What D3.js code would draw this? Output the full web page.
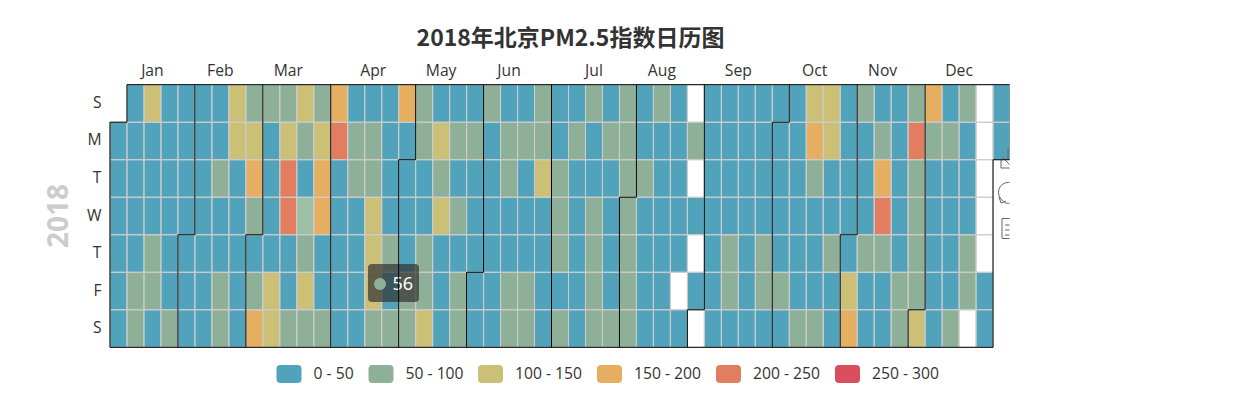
<!DOCTYPE html>
<html><head><meta charset="utf-8">
<script src="https://cdn.jsdelivr.net/npm/d3@7/dist/d3.min.js"></script>
<style>html,body{margin:0;padding:0;background:#fff}svg{display:block}text{font-family:"Open Sans","Noto Sans CJK SC",sans-serif}</style>
</head><body><svg id="c" width="1250" height="419"></svg>
<script>
const titleText = "2018年北京PM2.5指数日历图";
const yearLabel = "2018";
const monthLabels = ["Jan","Feb","Mar","Apr","May","Jun","Jul","Aug","Sep","Oct","Nov","Dec"];
const dayLabels = ["S","M","T","W","T","F","S"];
const legendLabels = ["0 - 50","50 - 100","100 - 150","150 - 200","200 - 250","250 - 300"];
const binEdges = [50,100,150,200,250];
const binColors = ["#50a3ba","#8fb098","#cbc076","#e6ae60","#e27d60","#d94e5d"];
// Estimated PM2.5 by weekday (rows) and week (columns); values are read as colour bins.
const sun=[null,30,125,30,30,30,30,125,75,75,75,125,75,175,30,30,30,175,75,30,30,30,75,30,30,75,30,30,75,30,75,30,75,30,null,30,30,30,30,30,30,125,125,30,75,30,30,75,175,30,75,null,30];
const mon=[30,30,30,30,30,30,30,125,125,30,125,75,125,225,75,75,30,30,75,125,75,75,30,75,75,75,30,75,30,75,75,30,30,30,75,30,30,30,30,30,30,175,125,30,30,75,30,225,75,75,30,null,30];
const tue=[30,30,30,30,30,30,75,30,175,30,225,30,175,30,75,75,30,30,30,75,30,30,30,75,30,125,75,30,30,30,75,75,30,30,null,30,30,30,30,30,30,75,30,30,30,175,30,75,30,30,30,null,null];
const wed=[30,30,30,30,30,30,30,30,75,30,225,56,175,30,30,125,30,30,30,125,75,30,30,30,30,30,75,30,75,30,75,30,30,30,30,30,30,30,30,30,30,30,30,30,30,225,30,75,30,30,30,null,null];
const thu=[30,30,75,30,30,30,30,30,30,30,30,75,30,30,30,125,75,30,75,30,30,30,30,30,30,30,75,30,75,30,75,30,30,30,null,30,75,30,75,30,30,30,75,30,75,75,30,75,30,30,75,null,null];
const fri=[30,75,75,30,30,30,75,30,75,125,30,125,30,30,30,125,30,75,75,30,75,30,30,75,75,30,30,30,75,30,75,30,30,null,30,30,75,30,75,75,30,30,30,125,30,30,75,75,30,30,75,30,null];
const sat=[30,75,30,75,30,30,75,30,175,125,75,75,75,30,30,75,75,75,125,30,75,30,30,75,75,30,75,30,75,75,75,30,30,30,null,30,30,30,30,30,75,75,30,175,30,30,75,125,30,75,null,30,null];
const weekdayRows = [sun,mon,tue,wed,thu,fri,sat];
const hoverValue = 56;

const svg = d3.select("#c");
const weeks = 53;
const x = d3.scaleLinear().domain([0,weeks]).range([110,1010]);
const y = d3.scaleLinear().domain([0,7]).range([84.7,347.3]);
const color = d3.scaleThreshold().domain(binEdges).range(binColors);
const yearStart = new Date(2018,0,1);
const colOf = d => d3.timeSunday.count(d3.timeSunday.floor(yearStart), d3.timeSunday.floor(d));
const days = d3.timeDay.range(new Date(2018,0,1), new Date(2019,0,1)).map(d => {
  const col = colOf(d), row = d.getDay();
  return {date:d,col,row,value:weekdayRows[row][col]};
});

// title and labels
svg.append("text").attr("x",570.5).attr("y",46).attr("text-anchor","middle")
  .attr("font-size",23).attr("font-weight",700).attr("fill","#333").style("font-family",'"Noto Sans CJK SC",sans-serif').text(titleText);
svg.append("text").attr("transform",`translate(68,${(y(0)+y(7))/2}) rotate(-90)`).attr("text-anchor","middle")
  .attr("font-size",28).attr("font-weight",700).attr("fill","#ccc").text(yearLabel);
svg.selectAll("text.day").data(dayLabels).join("text").attr("class","day")
  .attr("x",101.5).attr("y",(d,i)=>y(i+.5)+4.5).attr("text-anchor","end").attr("font-size",15.7).attr("fill","#333").text(d=>d);
svg.selectAll("text.month").data(monthLabels).join("text").attr("class","month")
  .attr("x",(d,i)=>{const a=colOf(new Date(2018,i,1)),b=colOf(new Date(2018,i+1,0));return (x(a)+x(b+1))/2;})
  .attr("y",75.500).attr("text-anchor","middle").attr("font-size",15.7).attr("fill","#333").text(d=>d);

const chartClip = svg.append("clipPath").attr("id","cc").append("rect").attr("x",0).attr("y",0).attr("width",1009.5).attr("height",419);
const plot = svg.append("g").attr("clip-path","url(#cc)");

// calendar background
plot.append("g").selectAll("rect").data(days).join("rect")
  .attr("x",d=>x(d.col)).attr("y",d=>y(d.row)).attr("width",x(1)-x(0)).attr("height",y(1)-y(0))
  .attr("fill","#fff");
// heat cells
plot.append("g").selectAll("rect").data(days.filter(d=>d.value!=null)).join("rect")
  .attr("x",d=>x(d.col)).attr("y",d=>y(d.row)).attr("width",x(1)-x(0)).attr("height",y(1)-y(0))
  .attr("fill",d=>d.value===hoverValue?"#9dc0a5":color(d.value));
// cell grid
plot.append("g").selectAll("rect").data(days).join("rect")
  .attr("x",d=>x(d.col)).attr("y",d=>y(d.row)).attr("width",x(1)-x(0)).attr("height",y(1)-y(0))
  .attr("fill","none").attr("stroke","#ccc");

// toolbox icons, cut by the canvas edge
const tb = plot.append("g").attr("fill","none").attr("stroke","#666").attr("stroke-width",1);
tb.append("path").attr("d","M1008 148V160M1002 157L1012 167M1001 160V168H1012");
tb.append("path").attr("d","M1012 183A10 10 0 0 0 1001 199M1001 199A10 10 0 0 0 1012 203M999 197L1001 203L1006 201");
tb.append("path").attr("d","M1002 218.500V238.500H1012M1002 218.500H1012M1005 225H1012M1005 230H1012M1005 235H1012");

// tooltip
const tip = plot.append("g").attr("transform","translate(368,264)");
tip.append("rect").attr("width",51).attr("height",38).attr("rx",4).attr("fill","#323232").attr("fill-opacity",.7);
tip.append("circle").attr("cx",12).attr("cy",20).attr("r",6).attr("fill",color(hoverValue));
tip.append("text").attr("x",24.5).attr("y",26).attr("font-size",18).attr("fill","#fff").style("font-family",'"Noto Sans",sans-serif').text(hoverValue);

// month split lines
const mPath = m => {
  const f = new Date(2018,m,1), c = colOf(f), r = f.getDay();
  return r===0 ? [[c,0],[c,7]] : [[c+1,0],[c+1,r],[c,r],[c,7]];
};
const line = d3.line().x(d=>x(d[0])).y(d=>y(d[1]));
const splits = plot.append("g").attr("fill","none").attr("stroke","#000").attr("stroke-width",1);
splits.selectAll("path").data(d3.range(0,13)).join("path").attr("d",m=>line(mPath(m)));
splits.append("path").attr("d",line([[1,0],[53,0]]));
splits.append("path").attr("d",line([[0,7],[52,7]]));

// legend
const legendX = [276.5,368.5,478,597,716,835];
const lg = svg.append("g").selectAll("g").data(legendLabels).join("g").attr("transform",(d,i)=>`translate(${legendX[i]},365)`);
lg.append("rect").attr("width",25).attr("height",18).attr("rx",4).attr("fill",(d,i)=>binColors[i]);
lg.append("text").attr("x",37).attr("y",14).attr("font-size",15.7).attr("fill","#333").text(d=>d);
</script></body></html>
